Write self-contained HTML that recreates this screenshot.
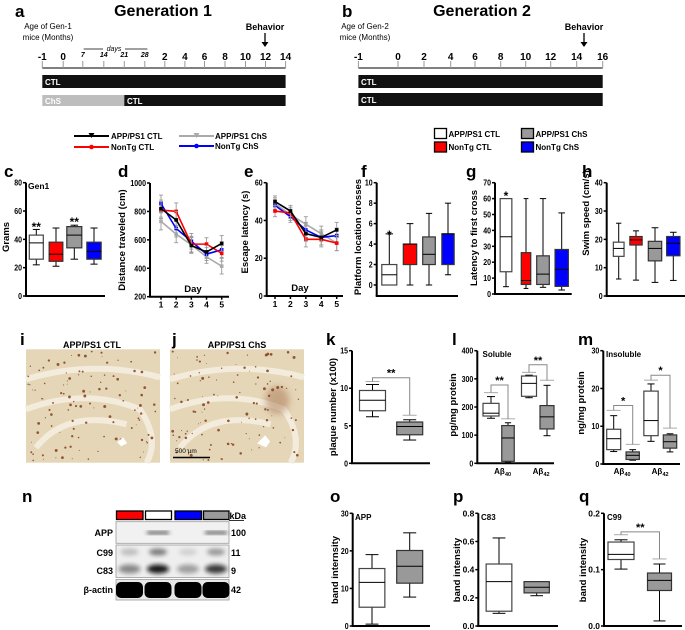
<!DOCTYPE html>
<html><head><meta charset="utf-8">
<style>
html,body{margin:0;padding:0;background:#fff;}
svg{display:block;font-family:"Liberation Sans",sans-serif;font-weight:bold;}
</style></head>
<body>
<svg id="fig" width="685" height="630" viewBox="0 0 685 630" xmlns="http://www.w3.org/2000/svg">
<defs>
<filter id="blur1" x="-50%" y="-50%" width="200%" height="200%"><feGaussianBlur stdDeviation="2"/></filter>
<filter id="blur2" x="-50%" y="-50%" width="200%" height="200%"><feGaussianBlur stdDeviation="3.5"/></filter>
</defs>

<g>
<text x="15" y="17" font-size="17">a</text>
<text x="163" y="16" font-size="16" text-anchor="middle">Generation 1</text>
<text x="48" y="29" font-size="8" font-weight="normal" text-anchor="middle">Age of Gen-1</text>
<text x="48" y="40" font-size="8" font-weight="normal" text-anchor="middle">mice (Months)</text>
<text x="265" y="30" font-size="9" text-anchor="middle">Behavior</text>
<line x1="265" y1="33" x2="265" y2="46" stroke="#000" stroke-width="1.3"/>
<path d="M261.5,42 L265,47 L268.5,42 Z" fill="#000"/>
<line x1="83.7" y1="49" x2="147.4" y2="49" stroke="#000" stroke-width="0.8"/>
<rect x="103" y="45" width="22" height="7" fill="#fff"/>
<text x="114" y="51" font-size="7" font-style="italic" font-weight="normal" text-anchor="middle">days</text>
<line x1="42.3" y1="68" x2="285.6" y2="68" stroke="#000" stroke-width="1"/>
<g id="ticksA"></g>
<rect x="42.3" y="75" width="243.3" height="13" fill="#111"/>
<text x="45" y="85" font-size="8" fill="#fff">CTL</text>
<rect x="42.3" y="95" width="82" height="11" fill="#bdbdbd"/>
<text x="45" y="104" font-size="8" fill="#fff">ChS</text>
<rect x="124.3" y="95" width="161.3" height="11" fill="#111"/>
<text x="127" y="104" font-size="8" fill="#fff">CTL</text>
</g>

<g>
<text x="342" y="17" font-size="17">b</text>
<text x="482" y="16" font-size="16" text-anchor="middle">Generation 2</text>
<text x="365" y="29" font-size="8" font-weight="normal" text-anchor="middle">Age of Gen-2</text>
<text x="365" y="40" font-size="8" font-weight="normal" text-anchor="middle">mice (Months)</text>
<text x="584" y="30" font-size="9" text-anchor="middle">Behavior</text>
<line x1="584" y1="33" x2="584" y2="46" stroke="#000" stroke-width="1.3"/>
<path d="M580.5,42 L584,47 L587.5,42 Z" fill="#000"/>
<line x1="358.4" y1="68" x2="602.7" y2="68" stroke="#000" stroke-width="1"/>
<g id="ticksB"></g>
<rect x="358.4" y="75" width="244.3" height="13" fill="#111"/>
<text x="361" y="85" font-size="8" fill="#fff">CTL</text>
<rect x="358.4" y="93" width="244.3" height="13" fill="#111"/>
<text x="361" y="103" font-size="8" fill="#fff">CTL</text>
</g>

<g>
<line x1="74" y1="136" x2="109" y2="136" stroke="#000" stroke-width="2"/><path d="M88.5,133 L94.5,133 L91.5,138 Z" fill="#000"/>
<text x="111" y="139" font-size="8">APP/PS1 CTL</text>
<line x1="179" y1="136" x2="214" y2="136" stroke="#aaa" stroke-width="2"/><path d="M193.5,133 L199.5,133 L196.5,138 Z" fill="#aaa"/>
<text x="215" y="139" font-size="8">APP/PS1 ChS</text>
<line x1="74" y1="147" x2="109" y2="147" stroke="#f00" stroke-width="2"/><circle cx="91.5" cy="147" r="2.3" fill="#f00"/>
<text x="111" y="150" font-size="8">NonTg CTL</text>
<line x1="179" y1="146" x2="214" y2="146" stroke="#00f" stroke-width="2"/><circle cx="196.5" cy="146" r="2.3" fill="#00f"/>
<text x="215" y="149" font-size="8">NonTg ChS</text>
</g>
<g>
<rect x="434.5" y="128.5" width="12" height="10" fill="#fff" stroke="#000" stroke-width="1.3"/>
<text x="448.5" y="137" font-size="8">APP/PS1 CTL</text>
<rect x="521.5" y="128.5" width="12" height="10" fill="#999" stroke="#000" stroke-width="1.3"/>
<text x="535.5" y="137" font-size="8">APP/PS1 ChS</text>
<rect x="434.5" y="142" width="12" height="10" fill="#f00" stroke="#000" stroke-width="1.3"/>
<text x="448.5" y="150" font-size="8">NonTg CTL</text>
<rect x="521.5" y="142" width="12" height="10" fill="#00f" stroke="#000" stroke-width="1.3"/>
<text x="535.5" y="150" font-size="8">NonTg ChS</text>
</g>

<g>
<text x="20" y="345" font-size="17">i</text>
<text x="92" y="348" font-size="9" text-anchor="middle">APP/PS1 CTL</text>
<g id="imgI"></g>
</g>
<g>
<text x="172" y="345" font-size="17">j</text>
<text x="237" y="348" font-size="9" text-anchor="middle">APP/PS1 ChS</text>
<g id="imgJ"></g>
<line x1="173" y1="457.5" x2="210" y2="457.5" stroke="#000" stroke-width="1.5"/>
<text x="175" y="453" font-size="6.5" font-weight="normal">500 µm</text>
</g>

<g>
<text x="22" y="502" font-size="17">n</text>
<rect x="116.5" y="511" width="26.5" height="8.5" fill="#f00" stroke="#000" stroke-width="1.3"/>
<rect x="145.5" y="511" width="26" height="8.5" fill="#fff" stroke="#000" stroke-width="1.3"/>
<rect x="175" y="511" width="26.5" height="8.5" fill="#00f" stroke="#000" stroke-width="1.3"/>
<rect x="203.5" y="511" width="25.5" height="8.5" fill="#999" stroke="#000" stroke-width="1.3"/>
<text x="229.5" y="519" font-size="9">kDa</text>
<line x1="229" y1="520.5" x2="244" y2="520.5" stroke="#000" stroke-width="0.8"/>
<rect x="116" y="521.7" width="113" height="21.6" fill="#f1f1f1" stroke="#999" stroke-width="0.8"/>
<rect x="116" y="545" width="113" height="32.5" fill="#eeeeee" stroke="#999" stroke-width="0.8"/>
<rect x="116" y="579.5" width="113" height="20.5" fill="#e8e8e8" stroke="#999" stroke-width="0.8"/>
<g id="bands"></g>
<text x="113" y="536" font-size="9" text-anchor="end">APP</text>
<text x="113" y="556" font-size="9" text-anchor="end">C99</text>
<text x="113" y="574" font-size="9" text-anchor="end">C83</text>
<text x="113" y="593" font-size="9" text-anchor="end">β-actin</text>
<text x="231" y="536" font-size="9">100</text>
<text x="231" y="556" font-size="9">11</text>
<text x="231" y="574" font-size="9">9</text>
<text x="231" y="593" font-size="9">42</text>
</g>

<g id="charts"></g>
</svg>

<script>
// ================= DATA =================
const gen1TickLabels = ["-1","0","7","14","21","28","2","4","6","8","10","12","14"];
const gen2TickLabels = ["-1","0","2","4","6","8","10","12","14","16"];

const cWhite = [22, 26, 37.5, 43, 47];
const cRed   = [21, 24.5, 29.5, 38, 48];
const cGray  = [26, 34, 43, 49, 50];
const cBlue  = [22.5, 26, 31.5, 38, 48];

const days = [1, 2, 3, 4, 5];
const dAppCtl   = [820, 740, 560, 515, 575];
const dAppChs   = [730, 640, 565, 480, 415];
const dNonCtl   = [810, 800, 570, 570, 505];
const dNonChs   = [855, 680, 590, 500, 530];
const dErr      = [60, 60, 55, 45, 55];

const eAppCtl = [50, 45, 33, 31, 35];
const eAppChs = [49, 43, 38, 33, 28];
const eNonCtl = [45, 44, 30, 30, 28];
const eNonChs = [48, 42, 35, 31, 32];
const eErr    = [3, 3, 4, 4, 4];

const fWhite = [0, 0, 1, 2, 5];
const fRed   = [0, 2, 4, 4, 6];
const fGray  = [0, 2, 3, 4.7, 7];
const fBlue  = [1, 2, 5, 5, 8];

const gWhite = [4.6, 14, 36, 60, 60];
const gRed   = [3.5, 6, 8.5, 26, 60];
const gGray  = [4.2, 6, 12.5, 24, 60];
const gBlue  = [2.5, 4.8, 15.5, 28, 51];

const hWhite = [6, 14, 16.8, 19, 25.7];
const hRed   = [5.6, 18, 19.8, 21, 23];
const hGray  = [4.8, 12.4, 16.8, 19.3, 24.1];
const hBlue  = [5.5, 14.2, 18.6, 21, 22.5];

const kWhite = [6.2, 7, 8.4, 9.7, 10.5];
const kGray  = [3.1, 3.8, 4.9, 5.5, 5.8];

const lWhite40 = [160, 168, 178, 213, 237];
const lGray40  = [5, 7, 90, 134, 144];
const lWhite42 = [233, 238, 284, 310, 313];
const lGray42  = [98, 122, 165, 205, 277];

const mWhite40 = [3.3, 3.8, 6.7, 9.2, 12.8];
const mGray40  = [1, 1.2, 2.3, 3.2, 3.8];
const mWhite42 = [6, 7.5, 11.5, 19.3, 21.2];
const mGray42  = [3.2, 4.2, 5.9, 7.7, 8];

const oWhite = [0.5, 5, 11.6, 15.3, 19];
const oGray  = [7.7, 11.4, 15.9, 20.1, 24.8];
const pWhite = [0.09, 0.105, 0.315, 0.44, 0.625];
const pGray  = [0.215, 0.235, 0.275, 0.315, 0.315];
const qWhite = [0.101, 0.118, 0.127, 0.149, 0.153];
const qGray  = [0.009, 0.063, 0.081, 0.094, 0.11];

const cTicks = [0, 20, 40, 60, 80];
const dTicks = [200, 400, 600, 800, 1000];
const eTicks = [0, 20, 40, 60];
const fTicks = [0, 2, 4, 6, 8, 10];
const gTicks = [0, 10, 20, 30, 40, 50, 60, 70];
const hTicks = [0, 10, 20, 30, 40];
const kTicks = [0, 5, 10, 15];
const lTicks = [0, 100, 200, 300, 400];
const mTicks = [0, 10, 20, 30];
const oTicks = [0, 10, 20, 30];
const pTicks = [0, 0.2, 0.4, 0.6, 0.8];
const qTicks = [0, 0.1, 0.2];

// ================= DRAWING =================
const NS = "http://www.w3.org/2000/svg";
const root = document.getElementById("charts");
function mk(tag, attrs, parent) {
  const e = document.createElementNS(NS, tag);
  for (const k in attrs) e.setAttribute(k, attrs[k]);
  (parent || root).appendChild(e);
  return e;
}
function txt(x, y, s, size, parent, anchor, extra) {
  const t = mk("text", Object.assign({x: x, y: y, "font-size": size, "text-anchor": anchor || "start"}, extra || {}), parent);
  t.textContent = s;
  return t;
}

(function () {
  const gA = document.getElementById("ticksA");
  const xsA = [42.3, 63.2, 82.8, 103.8, 124.3, 144.8, 164.8, 184.9, 204.5, 225, 245.5, 265.5, 285.6];
  gen1TickLabels.forEach((l, i) => {
    const x = xsA[i];
    const small = i >= 2 && i <= 5;
    const ln = mk("line", {x1: x, y1: 61, x2: x, y2: 68, stroke: "#999", "stroke-width": 1}, gA);
    
    
    const t = txt(x, small ? 57 : 60, l, small ? 7 : 10, gA, "middle", small ? {"font-style": "italic"} : {});
    
    
  });
  const gB = document.getElementById("ticksB");
  const xsB = [358.4, 398, 424, 450.7, 475, 500.7, 525.7, 550.7, 576.7, 602.7];
  gen2TickLabels.forEach((l, i) => {
    const x = xsB[i];
    const ln = mk("line", {x1: x, y1: 61, x2: x, y2: 68, stroke: "#999", "stroke-width": 1}, gB);
    
    
    const t = txt(x, 60, l, 10, gB, "middle");
    
    
  });
})();

function makeAxis(name, ax, xEnd, yTop, yBot, vmin, vmax, ticks, fmt, baseY) {
  const g = mk("g", {});
  
  
  const y = v => yBot - (v - vmin) / (vmax - vmin) * (yBot - yTop);
  const bY = baseY || yBot;
  const yl = mk("line", {x1: ax, y1: yTop, x2: ax, y2: bY, stroke: "#000", "stroke-width": 2}, g);
  
  
  const xl = mk("line", {x1: ax - 1, y1: bY, x2: xEnd, y2: bY, stroke: "#000", "stroke-width": 2}, g);
  
  
  ticks.forEach(v => {
    const tk = mk("line", {x1: ax - 3, y1: y(v), x2: ax, y2: y(v), stroke: "#000", "stroke-width": 1.5}, g);
    
    
    const s = fmt ? fmt(v) : String(v);
    const t = txt(ax - 4, y(v) + 3, s, 8.5, g, "end", {textLength: (s.length * 3.9).toFixed(1), lengthAdjust: "spacingAndGlyphs"});
    
    
  });
  return {g: g, y: y};
}
function yTitle(x, y, s, size) {
  const t = txt(0, 0, s, size || 9.5, root, "middle", {transform: "translate(" + x + "," + y + ") rotate(-90)"});
  
  
}
function letter(x, y, s) {
  const t = txt(x, y, s, 17, root, "start");
  
  
}
function box(axis, cx, w, v, fill, name) {
  const g = mk("g", {}, axis.g);
  
  
  const y = axis.y;
  const sc = "#000";
  mk("line", {x1: cx, y1: y(v[4]), x2: cx, y2: y(v[3]), stroke: sc, "stroke-width": 1}, g);
  mk("line", {x1: cx, y1: y(v[1]), x2: cx, y2: y(v[0]), stroke: sc, "stroke-width": 1}, g);
  mk("line", {x1: cx - w * 0.25, y1: y(v[4]), x2: cx + w * 0.25, y2: y(v[4]), stroke: sc, "stroke-width": 1}, g);
  mk("line", {x1: cx - w * 0.25, y1: y(v[0]), x2: cx + w * 0.25, y2: y(v[0]), stroke: sc, "stroke-width": 1}, g);
  mk("rect", {x: cx - w / 2, y: y(v[3]), width: w, height: Math.max(0.5, y(v[1]) - y(v[3])), fill: fill, stroke: fill === "#fff" ? "#444" : "#333", "stroke-width": 1.2}, g);
  mk("line", {x1: cx - w / 2, y1: y(v[2]), x2: cx + w / 2, y2: y(v[2]), stroke: "#000", "stroke-width": 1}, g);
}
function stars(x, y, s) {
  const t = txt(x, y, s, 12, root, "middle");
  
  
}
function bracket(axis, x1, v1, x2, v2, vTop, s, w) {
  const y = axis.y;
  const g = mk("g", {}, axis.g);
  
  
  mk("line", {x1: x1 - w, y1: y(v1), x2: x1 + w, y2: y(v1), stroke: "#aaa", "stroke-width": 1}, g);
  mk("line", {x1: x2 - w, y1: y(v2), x2: x2 + w, y2: y(v2), stroke: "#aaa", "stroke-width": 1}, g);
  mk("polyline", {points: x1 + "," + y(v1) + " " + x1 + "," + y(vTop) + " " + x2 + "," + y(vTop) + " " + x2 + "," + y(v2), fill: "none", stroke: "#888", "stroke-width": 1}, g);
  const t = txt((x1 + x2) / 2, y(vTop) - 1, s, 11, g, "middle");
  
  
}

const WHITE = "#fff", RED = "#ff0000", GRAY = "#999999", BLUE = "#0000ff";

// ---- c ----
letter(4, 177, "c");
const axC = makeAxis("panel-c-weight", 26, 105, 182.7, 296, 0, 80, cTicks);
box(axC, 36.3, 14, cWhite, WHITE, "box-app-ctl");
box(axC, 56, 13.7, cRed, RED, "box-nontg-ctl");
box(axC, 74.3, 15, cGray, GRAY, "box-app-chs");
box(axC, 94, 14.3, cBlue, BLUE, "box-nontg-chs");
txt(28, 189, "Gen1", 8.5, root, "start");
yTitle(9, 237, "Grams");
stars(36.3, 231, "**");
stars(74.3, 226, "**");

// ---- line charts ----
function lineChart(name, ax, xEnd, yTop, yBot, vmin, vmax, ticks, x1, x5, series, err) {
  const A = makeAxis(name, ax, xEnd, yTop, yBot, vmin, vmax, ticks);
  const xs = d => x1 + (d - 1) * (x5 - x1) / 4;
  days.forEach(d => {
    const tk = mk("line", {x1: xs(d), y1: yBot, x2: xs(d), y2: yBot + 3, stroke: "#000", "stroke-width": 1.5}, A.g);
    
    
    const t = txt(xs(d), yBot + 11, String(d), 8.5, A.g, "middle");
    
    
  });
  series.forEach(s => {
    const g = mk("g", {}, A.g);
    
    
    s.vals.forEach((v, i) => {
      const x = xs(days[i]);
      mk("line", {x1: x, y1: A.y(v + err[i]), x2: x, y2: A.y(v - err[i]), stroke: "#999", "stroke-width": 0.9}, g);
      mk("line", {x1: x - 2, y1: A.y(v + err[i]), x2: x + 2, y2: A.y(v + err[i]), stroke: "#999", "stroke-width": 0.9}, g);
      mk("line", {x1: x - 2, y1: A.y(v - err[i]), x2: x + 2, y2: A.y(v - err[i]), stroke: "#999", "stroke-width": 0.9}, g);
    });
    const pts = s.vals.map((v, i) => xs(days[i]) + "," + A.y(v)).join(" ");
    const pl = mk("polyline", {points: pts, fill: "none", stroke: s.color, "stroke-width": 1.6}, g);
    
    
    s.vals.forEach((v, i) => {
      const m = mk("rect", {x: xs(days[i]) - 1.8, y: A.y(v) - 1.8, width: 3.6, height: 3.6, fill: s.color}, g);
      
      
    });
  });
  return A;
}
letter(118, 177, "d");
lineChart("panel-d-distance", 150, 229, 183, 296.7, 200, 1000, dTicks, 161, 221.7, [
  {name: "app-chs", color: "#aaa", vals: dAppChs},
  {name: "nontg-chs", color: "#0000ff", vals: dNonChs},
  {name: "nontg-ctl", color: "#ff0000", vals: dNonCtl},
  {name: "app-ctl", color: "#000", vals: dAppCtl}
], dErr);
txt(193, 292, "Day", 9.5, root, "middle");
yTitle(125, 240, "Distance traveled (cm)");

letter(244, 177, "e");
lineChart("panel-e-latency", 266.7, 343, 182.7, 296, 0, 60, eTicks, 275, 336.7, [
  {name: "app-chs", color: "#aaa", vals: eAppChs},
  {name: "nontg-chs", color: "#0000ff", vals: eNonChs},
  {name: "nontg-ctl", color: "#ff0000", vals: eNonCtl},
  {name: "app-ctl", color: "#000", vals: eAppCtl}
], eErr);
txt(300, 291, "Day", 9.5, root, "middle");
yTitle(248, 232, "Escape latency (s)");

// ---- f ----
letter(361, 177, "f");
const axF = makeAxis("panel-f-crosses", 376.7, 458, 182.7, 285, 0, 10, fTicks, null, 296);
box(axF, 389.3, 15, fWhite, WHITE, "box-app-ctl");
box(axF, 410, 13.4, fRed, RED, "box-nontg-ctl");
box(axF, 429, 12.6, fGray, GRAY, "box-app-chs");
box(axF, 448, 12.3, fBlue, BLUE, "box-nontg-chs");
yTitle(361, 237, "Platform location crosses");
stars(389.3, 239, "*");

// ---- g ----
letter(466, 177, "g");
const axG = makeAxis("panel-g-first-cross", 495, 571.7, 182.7, 294, 0, 70, gTicks);
box(axG, 506, 11.7, gWhite, WHITE, "box-app-ctl");
box(axG, 526, 9.5, gRed, RED, "box-nontg-ctl");
box(axG, 543, 12.6, gGray, GRAY, "box-app-chs");
box(axG, 561.7, 13.3, gBlue, BLUE, "box-nontg-chs");
yTitle(477, 238, "Latency to first cross");
stars(506, 200, "*");

// ---- h ----
letter(582, 177, "h");
const axH = makeAxis("panel-h-swim-speed", 606.7, 685, 182.7, 296, 0, 40, hTicks);
box(axH, 618.7, 10.7, hWhite, WHITE, "box-app-ctl");
box(axH, 636, 12.3, hRed, RED, "box-nontg-ctl");
box(axH, 655, 13.4, hGray, GRAY, "box-app-chs");
box(axH, 673.3, 13.3, hBlue, BLUE, "box-nontg-chs");
yTitle(589, 213, "Swim speed (cm/s)");

// ---- k ----
letter(326, 345, "k");
const axK = makeAxis("panel-k-plaques", 352, 430, 350.7, 463.3, 0, 15, kTicks);
box(axK, 372.5, 26, kWhite, WHITE, "box-app-ctl");
box(axK, 409.7, 26, kGray, GRAY, "box-app-chs");
bracket(axK, 372.5, 10.9, 409.7, 6.4, 11.4, "**", 7);
yTitle(336, 407, "plaque number (x100)");

// ---- l ----
letter(452, 345, "l");
const axL = makeAxis("panel-l-soluble", 477.3, 554, 350.7, 463.3, 0, 400, lTicks);
box(axL, 491, 16, lWhite40, WHITE, "box-app-ctl-ab40");
box(axL, 508, 12.5, lGray40, GRAY, "box-app-chs-ab40");
box(axL, 529, 15, lWhite42, WHITE, "box-app-ctl-ab42");
box(axL, 547, 14, lGray42, GRAY, "box-app-chs-ab42");
bracket(axL, 491, 251, 508, 158, 278, "**", 7);
bracket(axL, 529, 323, 547, 295, 350, "**", 7);
txt(482.5, 357, "Soluble", 8, root, "start");
txt(499.5, 474, "Aβ", 8, root, "middle"); txt(505, 476, "40", 5.5, root, "start");
txt(538, 474, "Aβ", 8, root, "middle"); txt(543.5, 476, "42", 5.5, root, "start");
yTitle(456, 405, "pg/mg protein");

// ---- m ----
letter(578, 345, "m");
const axM = makeAxis("panel-m-insoluble", 603.3, 680, 350.7, 464, 0, 30, mTicks);
box(axM, 613.7, 14, mWhite40, WHITE, "box-app-ctl-ab40");
box(axM, 632.7, 13.3, mGray40, GRAY, "box-app-chs-ab40");
box(axM, 651, 14.3, mWhite42, WHITE, "box-app-ctl-ab42");
box(axM, 670, 13.4, mGray42, GRAY, "box-app-chs-ab42");
bracket(axM, 613.7, 14.2, 632.7, 5.2, 15.5, "*", 7);
bracket(axM, 651, 22.2, 670, 9.5, 23.5, "*", 7);
txt(606, 357, "Insoluble", 8, root, "start");
txt(619, 474, "Aβ", 8, root, "middle"); txt(624.5, 476, "40", 5.5, root, "start");
txt(657, 474, "Aβ", 8, root, "middle"); txt(662.5, 476, "42", 5.5, root, "start");
yTitle(584, 403, "ng/mg protein");

// ---- o ----
letter(330, 502, "o");
const axO = makeAxis("panel-o-app", 352.7, 430, 513.3, 626, 0, 30, oTicks);
box(axO, 372, 25.7, oWhite, WHITE, "box-app-ctl");
box(axO, 409.7, 26, oGray, GRAY, "box-app-chs");
txt(355, 520, "APP", 8, root, "start");
yTitle(338, 570, "band internsity");

// ---- p ----
letter(453, 502, "p");
const axP = makeAxis("panel-p-c83", 478.3, 558, 513.3, 626, 0, 0.8, pTicks, v => v.toFixed(1));
box(axP, 499, 25.7, pWhite, WHITE, "box-app-ctl");
box(axP, 536.7, 25.3, pGray, GRAY, "box-app-chs");
txt(481, 520, "C83", 8, root, "start");
yTitle(460, 570, "band intensity");

// ---- q ----
letter(579, 502, "q");
const axQ = makeAxis("panel-q-c99", 604, 682, 513.3, 626, 0, 0.2, qTicks, v => v.toFixed(1));
box(axQ, 621, 26, qWhite, WHITE, "box-app-ctl");
box(axQ, 659.5, 24, qGray, GRAY, "box-app-chs");
bracket(axQ, 621, 0.162, 659.5, 0.119, 0.167, "**", 7);
txt(607, 520, "C99", 8, root, "start");
yTitle(586, 570, "band intensity");

// ---- histology textures (decorative) ----
function tissue(gid, x0, y0, w, h, seed, extraCluster) {
  const g = document.getElementById(gid);
  mk("rect", {x: x0, y: y0, width: w, height: h, fill: "#e5d6b8"}, g);
  const bands = [
    "M" + x0 + "," + (y0 + 30) + " Q" + (x0 + w * 0.5) + "," + (y0 + 10) + " " + (x0 + w) + "," + (y0 + 28),
    "M" + x0 + "," + (y0 + 60) + " Q" + (x0 + w * 0.45) + "," + (y0 + 38) + " " + (x0 + w * 0.85) + "," + (y0 + 60) + " Q" + (x0 + w) + "," + (y0 + 90) + " " + (x0 + w * 0.9) + "," + (y0 + h),
    "M" + (x0 + 10) + "," + (y0 + h - 15) + " Q" + (x0 + w * 0.3) + "," + (y0 + 60) + " " + (x0 + w * 0.75) + "," + (y0 + 75)
  ];
  bands.forEach(d => mk("path", {d: d, fill: "none", stroke: "#f3ecdc", "stroke-width": 6}, g));
  let s = seed;
  const rnd = () => { s = (s * 9301 + 49297) % 233280; return s / 233280; };
  for (let i = 0; i < 110; i++) {
    const cx = x0 + 2 + rnd() * (w - 4), cy = y0 + 2 + rnd() * (h - 4);
    mk("circle", {cx: cx, cy: cy, r: 0.4 + rnd() * 1.1, fill: "#7a3610", opacity: 0.8}, g);
  }
  if (extraCluster) {
    mk("ellipse", {cx: x0 + 0.8 * w, cy: y0 + 0.45 * h, rx: 12, ry: 14, fill: "#8a4a20", opacity: 0.35, filter: "url(#blur2)"}, g);
    mk("path", {d: "M" + (x0 + w * 0.65) + "," + (y0 + h * 0.83) + " l8,-8 l5,6 l-4,6 z", fill: "#fff"}, g);
  } else {
    mk("path", {d: "M" + (x0 + w * 0.68) + "," + (y0 + h * 0.82) + " l6,-5 l4,6 l-6,3 z", fill: "#fff"}, g);
  }
}
tissue("imgI", 26, 349.3, 134, 113.4, 17, false);
tissue("imgJ", 170, 349.3, 134, 113.4, 71, true);

// ---- blot bands (decorative) ----
(function () {
  const g = document.getElementById("bands");
  const lanes = [129.5, 158, 188, 216];
  [1, 3].forEach(i => mk("rect", {x: lanes[i] - 11, y: 531.5, width: 22, height: 2.5, fill: "#333", filter: "url(#blur1)"}, g));
  const c99 = [0.25, 0.6, 0.15, 0.45];
  const c83 = [0.45, 0.95, 0.35, 0.8];
  lanes.forEach((x, i) => {
    mk("ellipse", {cx: x, cy: 552, rx: 9, ry: 3.5, fill: "#333", opacity: c99[i], filter: "url(#blur1)"}, g);
    mk("ellipse", {cx: x, cy: 569, rx: 11, ry: 4.5, fill: "#111", opacity: c83[i], filter: "url(#blur1)"}, g);
    mk("rect", {x: x - 13.5, y: 582, width: 27, height: 16, rx: 5, fill: "#000"}, g);
  });
})();
</script>
</body></html>
